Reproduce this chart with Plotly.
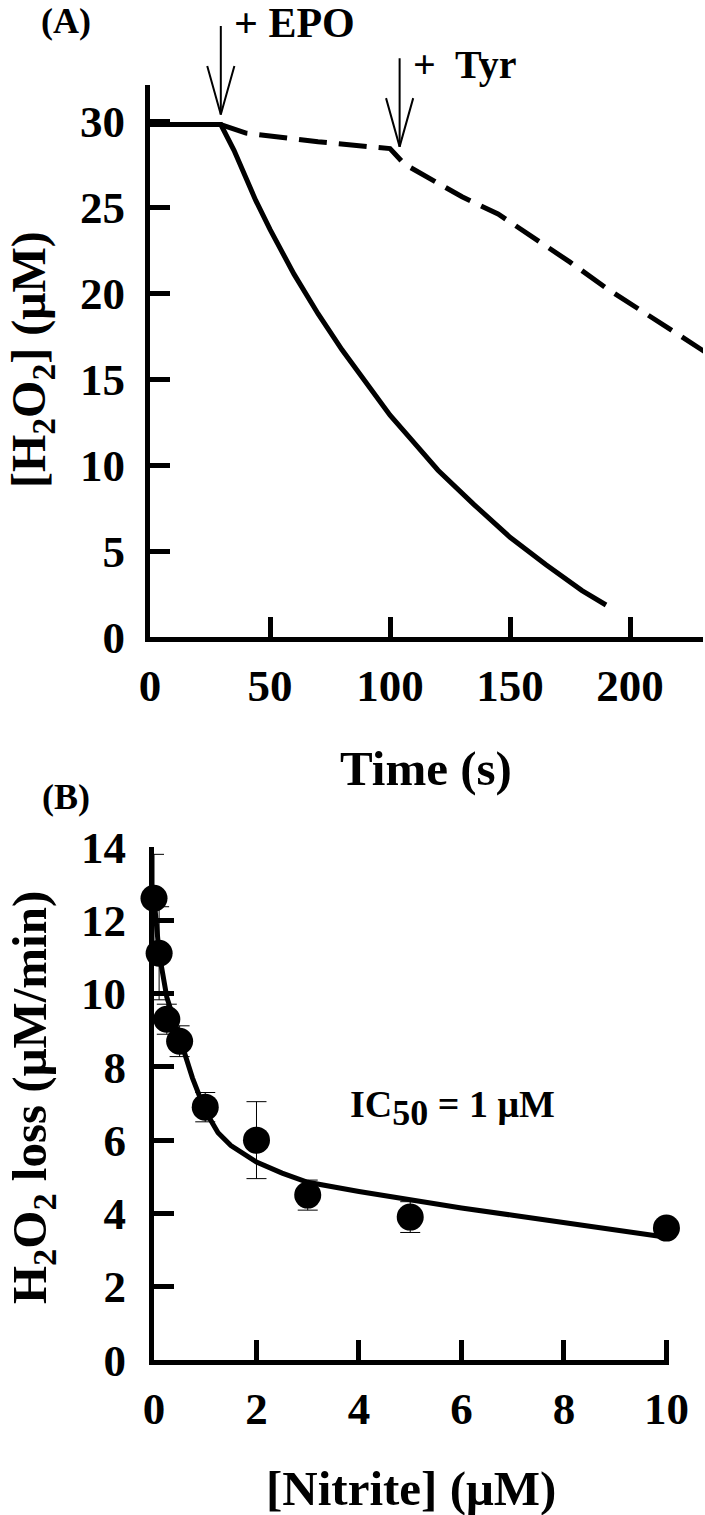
import plotly.graph_objects as go

# Panel A: H2O2 consumption over time
time_epo = [0, 29.5, 35, 44, 50, 60, 70, 80, 90, 100, 110, 120, 135, 150, 165, 180, 190]
h2o2_epo = [29.8, 29.8, 28.3, 25.4, 23.7, 21.1, 18.8, 16.7, 14.8, 12.9, 11.3, 9.7, 7.7, 5.8, 4.2, 2.7, 1.86]

time_nitrite = [29.5, 40, 70, 100, 106, 130, 145, 160, 175, 190, 210, 231]
h2o2_nitrite = [29.8, 29.3, 28.8, 28.4, 27.5, 25.6, 24.6, 23.2, 21.8, 20.3, 18.5, 16.6]

additions = ["+ EPO", "+  Tyr"]
addition_times = [29.5, 104]
addition_levels = [29.8, 28.4]

# Panel B: rate of H2O2 loss vs nitrite
nitrite = [0, 0.1, 0.25, 0.5, 1, 2, 3, 5, 10]
rate = [12.6, 11.1, 9.3, 8.7, 6.9, 6.0, 4.5, 3.9, 3.6]
rate_err = [1.2, 1.27, 0.41, 0.42, 0.4, 1.05, 0.41, 0.42, 0.1]

fit_x = [0, 0.1, 0.25, 0.5, 0.75, 1.0, 1.25, 1.5, 2, 2.5, 3, 4, 5, 6, 7, 8, 9, 10]
fit_y = [12.6, 11.1, 9.9, 8.8, 7.7, 6.8, 6.2, 5.85, 5.4, 5.1, 4.85, 4.6, 4.36, 4.15, 3.95, 3.75, 3.55, 3.35]

FONT = "Liberation Serif"
W, H = 705, 1515

fig = go.Figure()

fig.add_trace(go.Scatter(x=time_epo, y=h2o2_epo, mode="lines",
                         line=dict(color="black", width=5), xaxis="x", yaxis="y"))
fig.add_trace(go.Scatter(x=time_nitrite, y=h2o2_nitrite, mode="lines",
                         line=dict(color="black", width=5, dash="28px,12px"), xaxis="x", yaxis="y"))

fig.add_trace(go.Scatter(x=fit_x, y=fit_y, mode="lines", line=dict(color="black", width=5),
                         xaxis="x2", yaxis="y2", cliponaxis=False))
fig.add_trace(go.Scatter(x=nitrite, y=rate, mode="markers",
                         marker=dict(color="black", size=27),
                         error_y=dict(type="data", array=rate_err, color="black", thickness=1, width=10),
                         xaxis="x2", yaxis="y2", cliponaxis=False))

axis_common = dict(showline=True, linecolor="black", linewidth=5, ticks="inside",
                   ticklen=20, tickwidth=5, tickcolor="black", showgrid=False, zeroline=False,
                   automargin=False,
                   tickfont=dict(family=FONT, size=45, color="black", weight="bold"))

fig.update_layout(
    width=W, height=H,
    margin=dict(l=0, r=0, t=0, b=0),
    paper_bgcolor="white", plot_bgcolor="white",
    showlegend=False,
    xaxis=dict(domain=[150 / W, 703 / W], range=[0, 230.4], tick0=0, dtick=50,
               anchor="y", ticklabelstandoff=5, **axis_common),
    yaxis=dict(domain=[(H - 637) / H, (H - 85) / H], range=[0, 32.1], tick0=0, dtick=5,
               anchor="x", ticklabelstandoff=11, **axis_common),
    xaxis2=dict(domain=[154 / W, 669 / W], range=[0, 10.05], tick0=0, dtick=2,
                anchor="y2", ticklabelstandoff=5, **axis_common),
    yaxis2=dict(domain=[(H - 1360) / H, (H - 847) / H], range=[0, 14], tick0=0, dtick=2,
                anchor="x2", ticklabelstandoff=14, **axis_common),
)

# addition arrows: shaft plus two wings make an open V head
tip_gap = [10, 2]
text_rise = [92, 82]
for label, t, lvl, gap, rise in zip(additions, addition_times, addition_levels, tip_gap, text_rise):
    for ax, ay in [(0, -90), (-14, -50), (14, -50)]:
        fig.add_annotation(x=t, y=lvl, xref="x", yref="y", text="", showarrow=True,
                           arrowhead=0, arrowwidth=2, arrowcolor="black", standoff=0,
                           axref="pixel", ayref="pixel", ax=ax, ay=ay, yshift=gap)
    fig.add_annotation(x=t, y=lvl, xref="x", yref="y", text=f"<b>{label}</b>", showarrow=False,
                       xanchor="left", yanchor="middle", xshift=11, yshift=gap + rise,
                       font=dict(family=FONT, size=42 if "EPO" in label else 40, color="black"))


def label(x_px, y_px, text, size, angle=0):
    fig.add_annotation(x=x_px / W, y=1 - y_px / H, xref="paper", yref="paper", text=text,
                       showarrow=False, xanchor="center", yanchor="middle", textangle=angle,
                       font=dict(family=FONT, size=size, color="black"))


label(66, 21, "<b>(A)</b>", 36)
label(66, 797, "<b>(B)</b>", 36)
label(426, 768, "<b>Time (s)</b>", 49)
label(411, 1488, "<b>[Nitrite] (μM)</b>", 49)
label(32, 360, "<b>[H<sub>2</sub>O<sub>2</sub>] (μM)</b>", 48, -90)
label(32, 1098, "<b>H<sub>2</sub>O<sub>2</sub> loss (μM/min)</b>", 49, -90)
label(452, 1108, "<b>IC<sub><span style='font-size:36px'>50</span></sub> = 1 μM</b>", 38)

fig.write_html("out.html", config={"displayModeBar": False},
               post_script="document.body.style.margin='0';")
